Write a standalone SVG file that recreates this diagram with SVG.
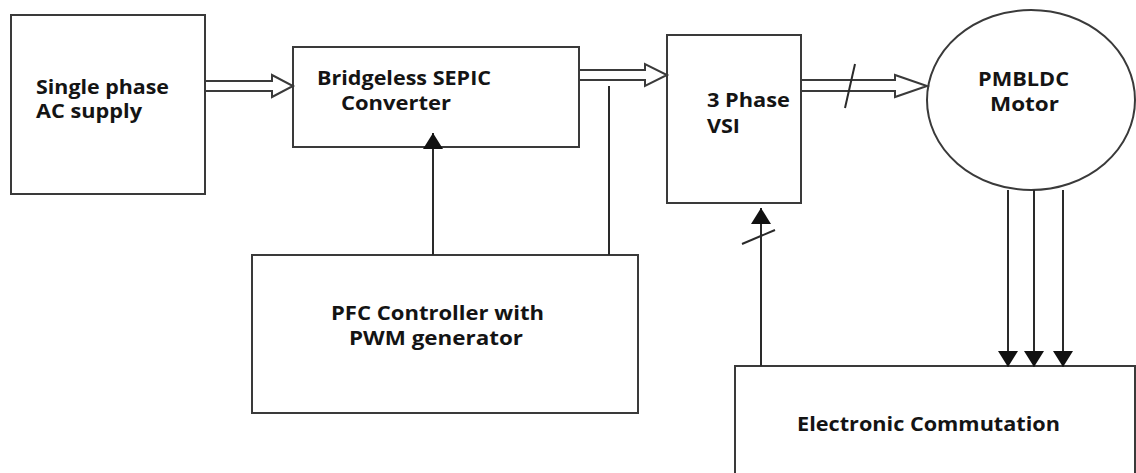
<svg xmlns="http://www.w3.org/2000/svg" width="1136" height="473" viewBox="0 0 1136 473">
<style>
.box{fill:#fff;stroke:#3a3a3a;stroke-width:2}
.ln{fill:none;stroke:#2a2a2a;stroke-width:2}
.hol{fill:none;stroke:#3a3a3a;stroke-width:2;stroke-linejoin:miter}
.t{font-family:"Open Sans","Liberation Sans",sans-serif;font-weight:bold;font-size:19px;fill:#141414}
</style>
<defs>
<marker id="ah" markerUnits="userSpaceOnUse" markerWidth="16" markerHeight="20" refX="16" refY="10" orient="auto" viewBox="0 0 16 20">
<path d="M0,0 L16,10 L0,20 z" fill="#111"/>
</marker>
</defs>
<rect width="1136" height="473" fill="#fff"/>
<g id="supply">
<rect class="box" x="11" y="15" width="194" height="179"/>
<text class="t" x="36" y="94" textLength="133" lengthAdjust="spacingAndGlyphs">Single phase</text>
<text class="t" x="36" y="118" textLength="106" lengthAdjust="spacingAndGlyphs">AC supply</text>
</g>
<g id="sepic">
<rect class="box" x="293" y="47" width="286" height="100"/>
<text class="t" x="317" y="85" textLength="174" lengthAdjust="spacingAndGlyphs">Bridgeless SEPIC</text>
<text class="t" x="341" y="110" textLength="110" lengthAdjust="spacingAndGlyphs">Converter</text>
</g>
<g id="vsi">
<rect class="box" x="667" y="35" width="134" height="168"/>
<text class="t" x="707" y="107" textLength="83" lengthAdjust="spacingAndGlyphs">3 Phase</text>
<text class="t" x="707" y="133" textLength="33" lengthAdjust="spacingAndGlyphs">VSI</text>
</g>
<g id="motor">
<ellipse class="box" cx="1031" cy="100" rx="104" ry="90"/>
<text class="t" x="978" y="86" textLength="91" lengthAdjust="spacingAndGlyphs">PMBLDC</text>
<text class="t" x="990" y="111" textLength="69" lengthAdjust="spacingAndGlyphs">Motor</text>
</g>
<g id="pfc">
<rect class="box" x="252" y="255" width="386" height="158"/>
<text class="t" x="331" y="320" textLength="213" lengthAdjust="spacingAndGlyphs">PFC Controller with</text>
<text class="t" x="349" y="345" textLength="174" lengthAdjust="spacingAndGlyphs">PWM generator</text>
</g>
<g id="commutation">
<rect class="box" x="735" y="366" width="400" height="120"/>
<text class="t" x="797" y="431" textLength="263" lengthAdjust="spacingAndGlyphs">Electronic Commutation</text>
</g>
<g id="connectors">
<path class="hol" d="M205,81 H272 V75 L293,86 L272,97 V91 H205"/>
<path class="hol" d="M579,70 H645 V64 L667,75 L645,86 V80 H579"/>
<path class="hol" d="M801,80 H895 V75 L927,86 L895,97 V91 H801"/>
<line class="ln" x1="845" y1="108" x2="855" y2="64"/>
<line class="ln" x1="609" y1="86" x2="609" y2="255"/>
<line class="ln" x1="433" y1="255" x2="433" y2="133" marker-end="url(#ah)"/>
<line class="ln" x1="761" y1="366" x2="761" y2="208" marker-end="url(#ah)"/>
<line class="ln" x1="742" y1="244" x2="775" y2="230"/>
<line class="ln" x1="1008" y1="190" x2="1008" y2="367" marker-end="url(#ah)"/>
<line class="ln" x1="1034" y1="190" x2="1034" y2="367" marker-end="url(#ah)"/>
<line class="ln" x1="1063" y1="190" x2="1063" y2="367" marker-end="url(#ah)"/>
</g>
</svg>
